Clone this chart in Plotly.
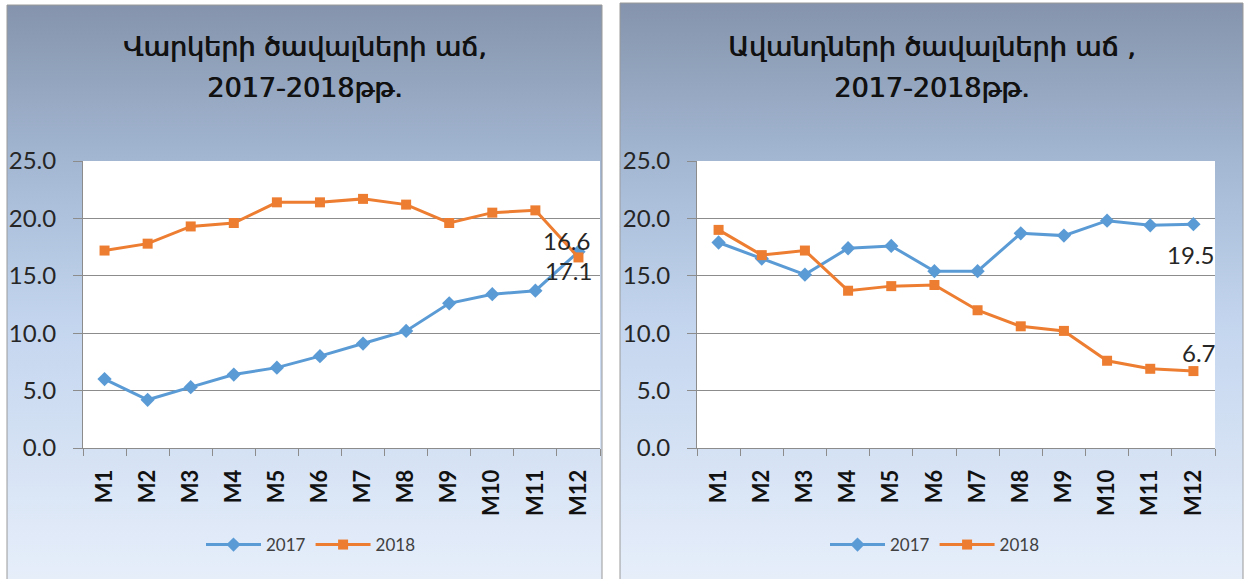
import base64

import plotly.graph_objects as go

# data
months = ["M1", "M2", "M3", "M4", "M5", "M6", "M7", "M8", "M9", "M10", "M11", "M12"]
loans_2017 = [6.0, 4.2, 5.3, 6.4, 7.0, 8.0, 9.1, 10.2, 12.6, 13.4, 13.7, 17.1]
loans_2018 = [17.2, 17.8, 19.3, 19.6, 21.4, 21.4, 21.7, 21.2, 19.6, 20.5, 20.7, 16.6]
deposits_2017 = [17.9, 16.5, 15.1, 17.4, 17.6, 15.4, 15.4, 18.7, 18.5, 19.8, 19.4, 19.5]
deposits_2018 = [19.0, 16.8, 17.2, 13.7, 14.1, 14.2, 12.0, 10.6, 10.2, 7.6, 6.9, 6.7]
title_lines = [
    ["Վարկերի ծավալների աճ,", "2017-2018թթ."],
    ["Ավանդների ծավալների աճ ,", "2017-2018թթ."],
]
series_names = ["2017", "2018"]

W, H = 1248, 579
BLUE = "#5b9bd5"
ORANGE = "#ed7d31"
NUM_FONT = "Lato, Liberation Sans, sans-serif"

# panel background gradient (as inline svg)
svg = (
    '<svg xmlns="http://www.w3.org/2000/svg" width="100" height="100" preserveAspectRatio="none">'
    '<defs><linearGradient id="g" x1="0" y1="0" x2="0" y2="1">'
    '<stop offset="0" stop-color="#8594ac"/>'
    '<stop offset="0.3" stop-color="#a6bad6"/>'
    '<stop offset="0.55" stop-color="#c3d5ee"/>'
    '<stop offset="1" stop-color="#e6eefa"/>'
    '</linearGradient></defs>'
    '<rect width="100" height="100" fill="url(#g)"/></svg>'
)
bg_src = "data:image/svg+xml;base64," + base64.b64encode(svg.encode()).decode()

panels = [(7, 602, 5), (620, 1243, 3)]
plots = [(83, 600), (697, 1215)]
ydom = [1 - 448 / H, 1 - 161 / H]

fig = go.Figure()

pairs = [(loans_2017, loans_2018), (deposits_2017, deposits_2018)]
for i, (s17, s18) in enumerate(pairs):
    xa = "x" if i == 0 else "x2"
    ya = "y" if i == 0 else "y2"
    lg = "legend" if i == 0 else "legend2"
    fig.add_trace(go.Scatter(
        x=months, y=s17, name=series_names[0], xaxis=xa, yaxis=ya, legend=lg,
        mode="lines+markers", line=dict(color=BLUE, width=3),
        marker=dict(symbol="diamond", size=11, color=BLUE),
    ))
    fig.add_trace(go.Scatter(
        x=months, y=s18, name=series_names[1], xaxis=xa, yaxis=ya, legend=lg,
        mode="lines+markers", line=dict(color=ORANGE, width=3),
        marker=dict(symbol="square", size=10, color=ORANGE),
    ))

axis_common = dict(showline=True, linecolor="#8c8c8c", linewidth=1)
for i, (x0, x1) in enumerate(plots):
    sfx = "" if i == 0 else "2"
    fig.update_layout(**{
        f"xaxis{sfx}": dict(
            domain=[x0 / W, x1 / W], anchor=f"y{sfx}", type="category",
            range=[-0.5, len(months) - 0.5],
            tickangle=-90, ticks="outside", tickson="boundaries", ticklen=7,
            tickcolor="#8c8c8c", showgrid=False, ticklabelstandoff=12,
            tickfont=dict(family=NUM_FONT, size=22, color="#111111", weight="bold"),
            **axis_common,
        ),
        f"yaxis{sfx}": dict(
            domain=ydom, anchor=f"x{sfx}", range=[0, 25], dtick=5, tickformat=".1f",
            ticks="outside", ticklen=9, tickcolor="#8c8c8c", showgrid=True,
            gridcolor="#8c8c8c", gridwidth=1, zeroline=False, ticklabelstandoff=12,
            tickfont=dict(family=NUM_FONT, size=24, color="#262626"),
            **axis_common,
        ),
    })
    # white plot area on top of the panel gradient
    fig.add_shape(type="rect", xref=f"x{sfx} domain", yref=f"y{sfx} domain",
                  x0=0, x1=1, y0=0, y1=1, fillcolor="white", line_width=0, layer="below")

# panels: gradient image, border, title
for i, (p0, p1, top) in enumerate(panels):
    fig.add_layout_image(dict(
        source=bg_src, xref="paper", yref="paper", x=p0 / W, y=1 - top / H,
        sizex=(p1 - p0) / W, sizey=1 - top / H, sizing="stretch", layer="below",
        xanchor="left", yanchor="top",
    ))
    fig.add_shape(type="rect", xref="paper", yref="paper", x0=p0 / W, x1=p1 / W,
                  y0=-0.01, y1=1 - top / H, line=dict(color="#9a9a9a", width=1), layer="below")
    for j, line in enumerate(title_lines[i]):
        fig.add_annotation(
            text=line, xref="paper", yref="paper", x=(p0 + p1) / 2 / W,
            y=1 - (47 + 41 * j) / H, xanchor="center", yanchor="middle",
            showarrow=False,
            font=dict(family="DejaVu Sans", size=27, color="#111111",
                      shadow="0.8px 0 0 #111111"),
        )

# end-point value labels
labels = [
    ("x", "y", loans_2018[-1], -12, 17),
    ("x", "y", loans_2017[-1], -10, -19),
    ("x2", "y2", deposits_2017[-1], -3, -30),
    ("x2", "y2", deposits_2018[-1], 6, 19),
]
for xr, yr, v, dx, dy in labels:
    fig.add_annotation(
        x=months[-1], y=v, xref=xr, yref=yr, text=f"{v:.1f}", showarrow=False,
        xshift=dx, yshift=dy, font=dict(family=NUM_FONT, size=24, color="#262626"),
    )

legend_common = dict(orientation="h", xanchor="center", yanchor="middle",
                     y=1 - 545 / H, bgcolor="rgba(0,0,0,0)", itemwidth=55,
                     font=dict(family=NUM_FONT, size=17, color="#404040"))
fig.update_layout(
    width=W, height=H, margin=dict(l=0, r=0, t=0, b=0, autoexpand=False),
    paper_bgcolor="white", plot_bgcolor="white",
    legend=dict(x=311 / W, **legend_common),
    legend2=dict(x=935 / W, **legend_common),
)

fig.write_html("out.html", config={"displayModeBar": False},
               post_script="document.body.style.margin='0';")
